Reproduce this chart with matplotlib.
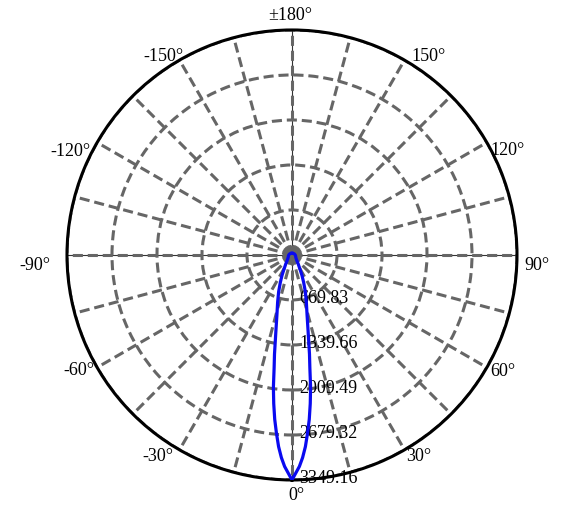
import numpy as np
import matplotlib
matplotlib.use('Agg')
import matplotlib.pyplot as plt

plt.rcParams['font.family'] = ['Liberation Serif', 'DejaVu Sans']

# luminous intensity (one side, symmetric), angle in degrees
angles_deg = [0, 2, 3, 4, 5, 6, 7, 8, 9, 10, 12, 14, 17, 20, 23, 26, 29,
              35, 40, 50, 60, 70, 80, 90, 110, 130, 150, 180]
intensity = [3349.16, 3150, 3020, 2860, 2660, 2460, 2230, 1990, 1700, 1500,
             1150, 930, 730, 580, 445, 340, 250, 160, 115, 80, 65, 58, 53,
             48, 40, 33, 28, 25]

r_ticks = [669.83, 1339.66, 2009.49, 2679.32, 3349.16]
r_labels = ['669.83', '1339.66', '2009.49', '2679.32', '3349.16']

grid_angles = list(range(0, 360, 15))
label_angles = list(range(0, 360, 30))

# placement of each rim label: alignment, pixel offset from the rim point
label_place = {
    0: ('center', 4, -16),
    30: ('left', 2, -7),
    60: ('left', 3, -4),
    90: ('left', 7, -11),
    120: ('left', 4, -8),
    150: ('left', 7, 4),
    180: ('center', -2, 14),
    210: ('right', 4, 4),
    240: ('right', -7, -9),
    270: ('right', -17, -11),
    300: ('right', -3, -3),
    330: ('right', -6, -7),
}


def angle_text(t):
    if t == 180:
        return '±180°'
    if t > 180:
        return '%d°' % (t - 360)
    return '%d°' % t


# mirror to full curve
a = np.array(angles_deg, dtype=float)
v = np.array(intensity)
theta = np.deg2rad(np.concatenate([-a[::-1], a[1:]]))
rr = np.concatenate([v[::-1], v[1:]])

fig = plt.figure(figsize=(5.77, 5.15), dpi=100)
ax = fig.add_axes([0.1161, 0.0680, 0.7799, 0.8738], projection='polar')
ax.set_theta_zero_location('S')
ax.set_theta_direction(1)
rmax = r_ticks[-1]
ax.set_ylim(0, rmax)

ax.set_thetagrids(grid_angles, [''] * len(grid_angles))
ax.set_rgrids(r_ticks, [''] * len(r_ticks))
ax.grid(True, color='#666666', linestyle=(0, (3.3, 1.6)), linewidth=2.2)
ax.spines['polar'].set_linewidth(2.2)
ax.spines['polar'].set_color('black')

# thin solid axes through the centre
for t in (0, 90, 180, 270):
    ax.plot([np.deg2rad(t)] * 2, [0, rmax], color='#333333', lw=0.8, zorder=1)

# angle labels around the rim
for t in label_angles:
    ha, dx, dy = label_place[t]
    ax.annotate(angle_text(t), (np.deg2rad(t), rmax), xytext=(dx, dy),
                textcoords='offset pixels', ha=ha, va='center', fontsize=13,
                annotation_clip=False)

for r, lab in zip(r_ticks, r_labels):
    ax.annotate(lab, (0, r), xytext=(7, 1), textcoords='offset pixels',
                ha='left', va='center', fontsize=13, zorder=3)

ax.plot(theta, rr, color='#0a0af0', lw=2.3, zorder=5)

fig.savefig('out.png', dpi=100)
